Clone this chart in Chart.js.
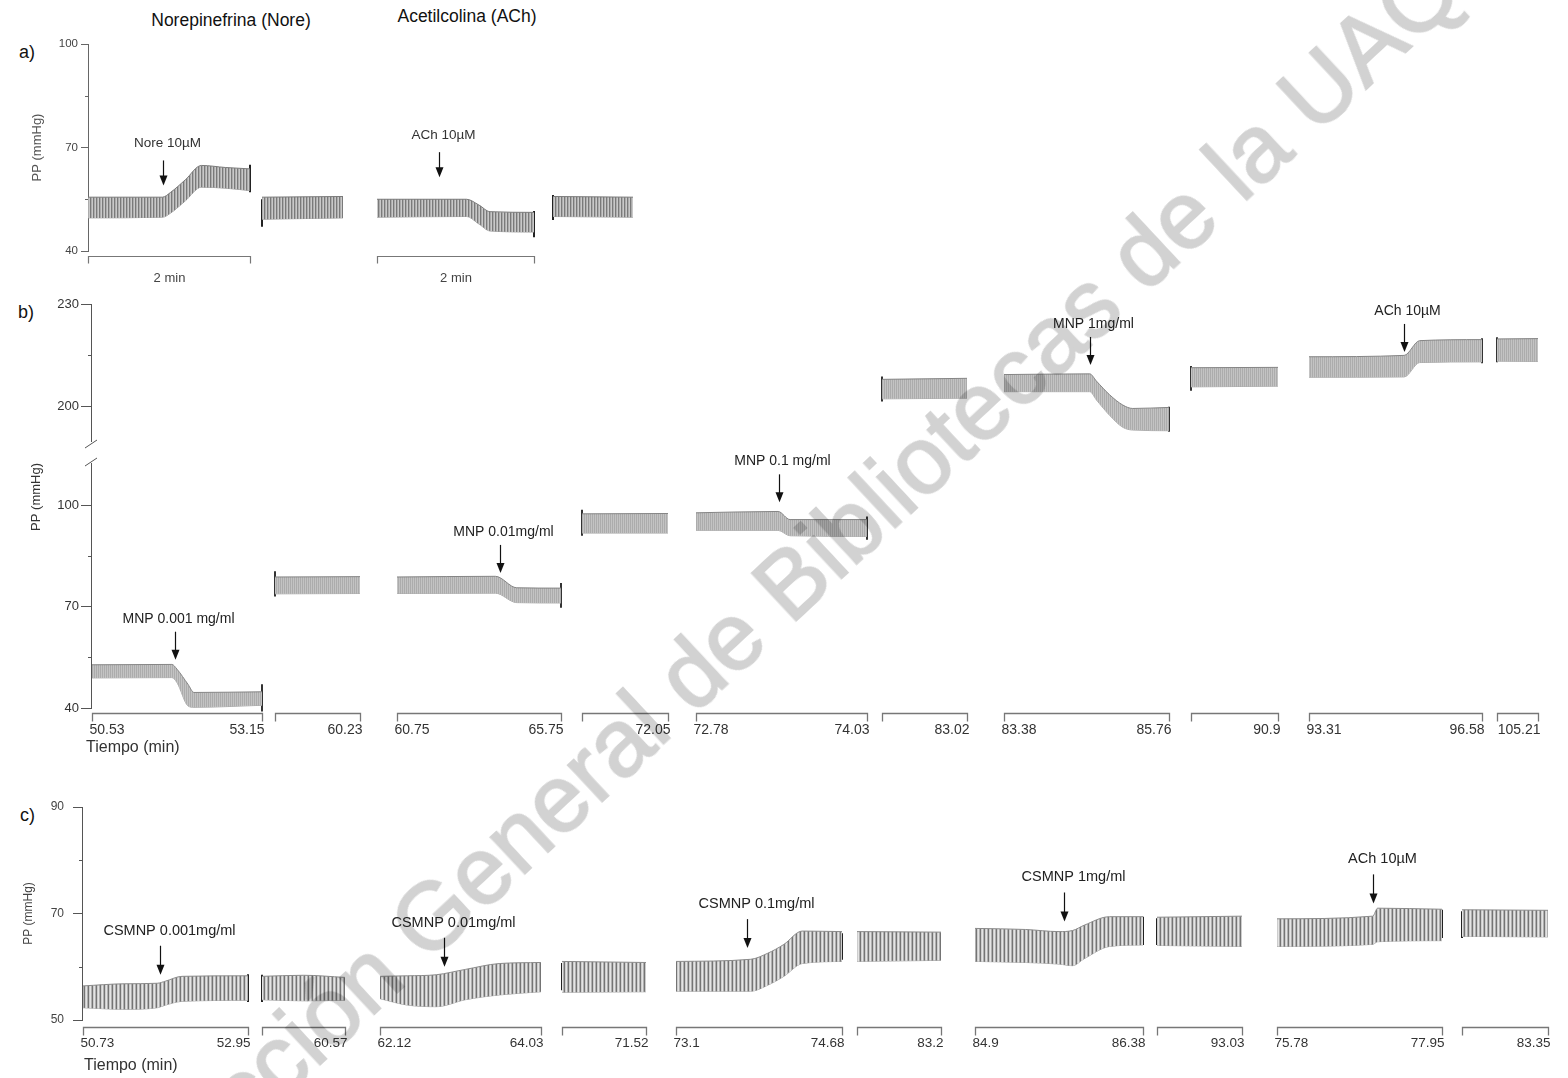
<!DOCTYPE html>
<html lang="es">
<head>
<meta charset="utf-8">
<title>Presión de perfusión</title>
<script src="https://cdn.jsdelivr.net/npm/chart.js@4.4.1/dist/chart.umd.min.js"></script>
<style>
  html, body { margin: 0; padding: 0; background: #fff; }
  body { width: 1568px; height: 1078px; position: relative; overflow: hidden;
         font-family: "Liberation Sans", Arial, sans-serif; }
  canvas { position: absolute; left: 0; }
  .tag { position: absolute; font-size: 18px; line-height: 1; color: #111; }
  .head { position: absolute; font-size: 17.5px; line-height: 1; color: #111;
          transform: translateX(-50%); white-space: nowrap; }
  #marca { position: absolute; left: 64px; top: 1194px; transform-origin: 0 0;
           transform: rotate(-43deg); font-size: 95px; line-height: 1; white-space: nowrap;
           color: #d2d2d2; -webkit-text-stroke: 2px #d2d2d2; mix-blend-mode: multiply;
           pointer-events: none; z-index: 5; }
</style>
</head>
<body>

<div class="head" style="left:231px; top:12px">Norepinefrina (Nore)</div>
<div class="head" style="left:467px; top:8px">Acetilcolina (ACh)</div>
<div class="tag" style="left:19px; top:43px">a)</div>
<div class="tag" style="left:18px; top:303px">b)</div>
<div class="tag" style="left:20px; top:806px">c)</div>

<canvas id="panelA" width="1568" height="300" style="top:0"></canvas>
<canvas id="panelB" width="1568" height="480" style="top:290px"></canvas>
<canvas id="panelC" width="1568" height="288" style="top:790px"></canvas>

<div id="marca">Dirección General de Bibliotecas de la UAQ</div>

<script>
// ---------------------------------------------------------------
// Datos: cada tramo del registro es una lista de [fracción del tramo,
// PP máxima, PP mínima] en mmHg. Las marcas negras son
// [tramo, lado (0 izq / 1 der), mín, máx].
// ---------------------------------------------------------------

// a) Norepinefrina y acetilcolina (controles)
const aTicks = [40, 70, 100];
const aMinor = [55, 85];
const aTraces = [
  [[0, 55.6, 49.6], [0.46, 55.6, 49.8], [0.51, 57, 51], [0.6, 60.6, 54.5], [0.7, 64.8, 58.5], [0.85, 64.2, 58.2], [1, 63.8, 57.5]],
  [[0, 55.6, 49.2], [1, 55.8, 49.6]],
  [[0, 55, 49.8], [0.57, 55, 50], [0.65, 53.3, 47.8], [0.72, 51.4, 45.8], [1, 51.2, 45.5]],
  [[0, 55.8, 50], [1, 55.6, 49.8]]
];
const aMarks = [[0, 1, 57, 65], [1, 0, 47, 55], [2, 1, 44, 51.6], [3, 0, 49, 56.2]];
const aDoses = [
  { text: 'Nore 10µM', seg: 0, f: 0.46, tip: 59 },
  { text: 'ACh 10µM', seg: 2, f: 0.395, tip: 61.4 }
];
const aBars = ['2 min', '', '2 min', ''];

// b) MNP
const bTicksTop = [200, 230];
const bTicksBot = [40, 70, 100];
const bMinorTop = [215];
const bMinorBot = [55, 85];
const bTraces = [
  [[0, 52.8, 48.9], [0.47, 52.9, 49], [0.5, 51.5, 47.5], [0.565, 47, 40.6], [0.6, 44.6, 40.2], [1, 44.8, 40.8]],
  [[0, 78.8, 73.8], [1, 78.9, 73.9]],
  [[0, 78.8, 73.9], [0.6, 79, 74], [0.73, 75.6, 71.2], [1, 75.5, 71.1]],
  [[0, 97.5, 91.8], [1, 97.6, 91.8]],
  [[0, 97.8, 92.6], [0.48, 98.2, 92.6], [0.55, 95.8, 91], [1, 95.8, 90.8]],
  [[0, 208, 202.3], [1, 208.3, 202.5]],
  [[0, 209.4, 204.4], [0.52, 209.6, 204.4], [0.56, 207.5, 202], [0.64, 203.5, 197.5], [0.72, 200.5, 194], [0.78, 199.5, 193.2], [1, 199.8, 193]],
  [[0, 211.4, 205.8], [1, 211.5, 206]],
  [[0, 214.6, 208.6], [0.55, 215, 208.7], [0.64, 219.3, 212.9], [1, 219.6, 213.1]],
  [[0, 219.8, 213.3], [1, 219.9, 213.2]]
];
const bMarks = [[0, 1, 39, 47], [1, 0, 73, 80.5], [2, 1, 69.7, 77], [3, 0, 91, 98.7], [4, 1, 89.8, 96.7],
                [5, 0, 201.5, 208.8], [6, 1, 192.7, 200], [7, 0, 204.7, 211.9], [8, 1, 212.7, 220], [9, 0, 213, 220.3]];
const bDoses = [
  { text: 'MNP 0.001 mg/ml', seg: 0, f: 0.49, tip: 54.3 },
  { text: 'MNP 0.01mg/ml', seg: 2, f: 0.628, tip: 80 },
  { text: 'MNP 0.1 mg/ml', seg: 4, f: 0.485, tip: 100.9 },
  { text: 'MNP 1mg/ml', seg: 6, f: 0.52, tip: 212.2 },
  { text: 'ACh 10µM', seg: 8, f: 0.55, tip: 216 }
];
const bStart = ['50.53', '', '60.75', '', '72.78', '', '83.38', '', '93.31', ''];
const bEnd = ['53.15', '60.23', '65.75', '72.05', '74.03', '83.02', '85.76', '90.9', '96.58', '105.21'];

// c) CSMNP
const cTicks = [50, 70, 90];
const cMinor = [60, 80];
const cTraces = [
  [[0, 56.4, 52.3], [0.25, 56.8, 52], [0.45, 56.9, 52.3], [0.5, 57.3, 52.8], [0.6, 58.2, 53.5], [1, 58.3, 53.7]],
  [[0, 58.2, 53.8], [0.5, 58.4, 53.6], [1, 58, 53.7]],
  [[0, 58.2, 54], [0.17, 58.3, 52.8], [0.35, 58.5, 52.5], [0.53, 59.5, 53.8], [0.74, 60.6, 54.7], [1, 60.8, 55.3]],
  [[0, 61, 55.2], [1, 60.8, 55.3]],
  [[0, 61, 55.4], [0.45, 61.4, 55.4], [0.55, 62.5, 56.5], [0.65, 64.2, 58.2], [0.76, 66.7, 60.6], [1, 66.6, 61]],
  [[0, 66.6, 61], [1, 66.5, 61.2]],
  [[0, 67.2, 61], [0.3, 67, 60.8], [0.5, 66.6, 60.5], [0.58, 66.8, 60.2], [0.65, 67.8, 61.5], [0.8, 69.4, 63.8], [1, 69.4, 64.1]],
  [[0, 69.3, 64], [1, 69.5, 63.8]],
  [[0, 69, 63.8], [0.58, 69.5, 64.2], [0.61, 71, 64.7], [1, 70.8, 64.9]],
  [[0, 70.7, 65.7], [1, 70.6, 65.6]]
];
const cMarks = [[0, 1, 53.4, 58.6], [1, 0, 53.4, 58.5], [3, 0, 55.6, 60.7], [4, 1, 61.3, 66.3],
                [6, 1, 64.1, 69.4], [7, 0, 64.1, 69.1], [8, 1, 65.4, 70.7], [9, 0, 65.4, 70.4]];
const cDoses = [
  { text: 'CSMNP 0.001mg/ml', seg: 0, f: 0.467, tip: 58.5 },
  { text: 'CSMNP 0.01mg/ml', seg: 2, f: 0.40, tip: 60 },
  { text: 'CSMNP 0.1mg/ml', seg: 4, f: 0.43, tip: 63.5 },
  { text: 'CSMNP 1mg/ml', seg: 6, f: 0.53, tip: 68.5 },
  { text: 'ACh 10µM', seg: 8, f: 0.584, tip: 71.9 }
];
const cStart = ['50.73', '', '62.12', '', '73.1', '', '84.9', '', '75.78', ''];
const cEnd = ['52.95', '60.57', '64.03', '71.52', '74.68', '83.2', '86.38', '93.03', '77.95', '83.35'];

// ---------------------------------------------------------------
// Disposición: posición de cada tramo sobre la pista horizontal
// (unidades de pista, el registro no es continuo en el tiempo)
// ---------------------------------------------------------------
const aSlots = [[0, 162], [174, 255], [289, 446], [465, 545]];
const bSlots = [[1, 171], [184, 269], [306, 470], [491, 577], [605, 776],
                [791, 876], [913, 1078], [1100, 1187], [1218, 1391], [1406, 1447]];
const cSlots = [[1, 166], [180, 263], [298, 459], [480, 564], [594, 760],
                [775, 859], [893, 1061], [1075, 1160], [1195, 1360], [1380, 1466]];
const bAxes = ['yBot', 'yBot', 'yBot', 'yBot', 'yBot', 'yTop', 'yTop', 'yTop', 'yTop', 'yTop'];

const FONT = '"Liberation Sans", Arial, sans-serif';

// Textura de latidos: franjas verticales finas
function stripes(cols) {
  const c = document.createElement('canvas');
  c.width = cols.length; c.height = 4;
  const g = c.getContext('2d');
  cols.forEach((col, i) => { g.fillStyle = col; g.fillRect(i, 0, 1, 4); });
  return g.createPattern(c, 'repeat');
}

function slotX(slots, seg, f) {
  const [x0, x1] = slots[seg];
  return x0 + f * (x1 - x0);
}

// Dos líneas por tramo (máx y mín) con relleno entre ambas
function traceSets(slots, traces, axes, look) {
  const sets = [];
  traces.forEach((pts, i) => {
    const yAxisID = axes ? axes[i] : 'y';
    const common = { yAxisID, pointRadius: 0, borderWidth: 1, cubicInterpolationMode: 'monotone' };
    sets.push(Object.assign({
      data: pts.map(p => ({ x: slotX(slots, i, p[0]), y: p[1] })),
      fill: '+1', backgroundColor: look.fill, borderColor: look.top
    }, common));
    sets.push(Object.assign({
      data: pts.map(p => ({ x: slotX(slots, i, p[0]), y: p[2] })),
      fill: false, borderColor: look.bottom
    }, common));
  });
  return sets;
}

// Marcas negras de inicio / fin de tramo
function markSets(slots, marks, axes, color) {
  return marks.map(([seg, side, lo, hi]) => ({
    data: [{ x: slots[seg][side], y: lo }, { x: slots[seg][side], y: hi }],
    yAxisID: axes ? axes[seg] : 'y',
    borderColor: color, borderWidth: 2, pointRadius: 0, fill: false, clip: false
  }));
}

function doseItems(slots, doses, axes) {
  return doses.map(d => ({ text: d.text, x: slotX(slots, d.seg, d.f), tip: d.tip, axis: axes ? axes[d.seg] : 'y' }));
}

function bracketItems(slots, starts, ends, mids) {
  return slots.map((span, i) => ({
    span, start: starts ? starts[i] : '', end: ends ? ends[i] : '', mid: mids ? mids[i] : ''
  })).filter(it => it.start || it.end || it.mid);
}

function yAxis(o) {
  return {
    type: 'linear', position: 'left', min: o.min, max: o.max,
    display: true, weight: o.weight || 0,
    stack: o.stack, stackWeight: o.stackWeight,
    afterBuildTicks: s => { s.ticks = (o.ticks || []).map(v => ({ value: v })); },
    afterFit: s => { s.width = o.width; },
    border: { display: o.border !== false, color: o.line, width: 1 },
    grid: { display: o.border !== false, drawOnChartArea: false, drawTicks: true,
            tickLength: o.tickLen, tickColor: o.line, tickWidth: 1 },
    ticks: { display: !!o.ticks, padding: o.pad, color: o.color, font: { family: FONT, size: o.size } },
    title: o.title ? {
      display: true, text: 'PP (mmHg)', color: o.titleColor, align: o.titleAlign || 'center',
      font: { family: FONT, size: o.titleSize }, padding: { top: o.titlePad, bottom: 0 }
    } : { display: false }
  };
}

// Flechas, corchetes de tiempo, marcas menores y corte del eje
const registro = {
  id: 'registro',
  afterDraw(chart, args, o) {
    const ctx = chart.ctx;
    const xs = chart.scales.x;
    const area = chart.chartArea;
    ctx.save();

    ctx.strokeStyle = o.axisColor; ctx.lineWidth = 1;
    (o.minor || []).forEach(m => {
      const s = chart.scales[m.axis];
      m.values.forEach(v => {
        const y = Math.round(s.getPixelForValue(v)) + 0.5;
        ctx.beginPath(); ctx.moveTo(s.right - m.len, y); ctx.lineTo(s.right, y); ctx.stroke();
      });
    });

    if (o.cut) {
      const top = chart.scales[o.cut[0]], bot = chart.scales[o.cut[1]];
      const x = top.right;
      [top.bottom + 3, bot.top - 1].forEach(y => {
        ctx.beginPath(); ctx.moveTo(x - 6, y + 4); ctx.lineTo(x + 6, y - 4); ctx.stroke();
      });
    }

    const b = o.brackets;
    const y = Math.round(area.bottom + b.gap) + 0.5;
    b.items.forEach(it => {
      const x0 = Math.round(xs.getPixelForValue(it.span[0])) + 0.5;
      const x1 = Math.round(xs.getPixelForValue(it.span[1])) + 0.5;
      ctx.strokeStyle = b.color; ctx.lineWidth = b.width;
      ctx.beginPath();
      ctx.moveTo(x0, y + b.tick); ctx.lineTo(x0, y); ctx.lineTo(x1, y); ctx.lineTo(x1, y + b.tick);
      ctx.stroke();
      ctx.fillStyle = b.textColor; ctx.font = b.font; ctx.textBaseline = 'middle';
      const ty = area.bottom + b.textGap;
      if (it.start) { ctx.textAlign = 'left'; ctx.fillText(it.start, x0 - 3, ty); }
      if (it.end) { ctx.textAlign = 'right'; ctx.fillText(it.end, x1 + 2, ty); }
      if (it.mid) { ctx.textAlign = 'center'; ctx.fillText(it.mid, (x0 + x1) / 2, ty); }
    });
    if (b.axisTitle) {
      ctx.textAlign = 'left'; ctx.font = b.titleFont; ctx.fillStyle = b.textColor;
      ctx.fillText(b.axisTitle, area.left + b.titleDx, area.bottom + b.titleGap);
    }

    const d = o.doses;
    d.items.forEach(it => {
      const ys = chart.scales[it.axis];
      const x = Math.round(xs.getPixelForValue(it.x)) + 0.5;
      const tip = ys.getPixelForValue(it.tip);
      ctx.strokeStyle = '#111'; ctx.fillStyle = '#111'; ctx.lineWidth = 1.2;
      ctx.beginPath(); ctx.moveTo(x, tip - d.len); ctx.lineTo(x, tip - 8); ctx.stroke();
      ctx.beginPath(); ctx.moveTo(x - 4, tip - 10); ctx.lineTo(x + 4, tip - 10); ctx.lineTo(x, tip);
      ctx.closePath(); ctx.fill();
      ctx.font = d.font; ctx.textAlign = 'center'; ctx.textBaseline = 'middle'; ctx.fillStyle = d.color;
      ctx.fillText(it.text, x + d.shift, tip - d.labelGap);
    });
    ctx.restore();
  }
};

function baseOptions(padding, trackLen, scales, reg) {
  return {
    responsive: false, animation: false, events: [],
    layout: { padding },
    scales: Object.assign({ x: { type: 'linear', min: 0, max: trackLen, display: false } }, scales),
    plugins: { legend: { display: false }, tooltip: { enabled: false }, registro: reg }
  };
}

// ---------- a) ----------
const lookA = { fill: stripes(['#7a7a7a', '#acacac', '#c9c9c9']), top: '#7a7a7a', bottom: '#9c9c9c' };
new Chart(document.getElementById('panelA'), {
  type: 'line',
  data: { datasets: traceSets(aSlots, aTraces, null, lookA).concat(markSets(aSlots, aMarks, null, '#222')) },
  options: baseOptions({ top: 44, bottom: 49, left: 0, right: 8 }, 1472, {
    y: yAxis({ min: 40, max: 100, ticks: aTicks, width: 88, line: '#666', tickLen: 7, pad: 3,
               color: '#444', size: 11.5, title: true, titleColor: '#555', titleSize: 13, titlePad: 30 })
  }, {
    axisColor: '#666',
    minor: [{ axis: 'y', values: aMinor, len: 3 }],
    brackets: { items: bracketItems(aSlots, null, null, aBars), gap: 5, tick: 7, width: 1.2,
                color: '#777', textColor: '#444', font: '13px ' + FONT, textGap: 27 },
    doses: { items: doseItems(aSlots, aDoses, null), len: 25, labelGap: 42, shift: 4,
             font: '13.5px ' + FONT, color: '#333' }
  }),
  plugins: [registro]
});

// ---------- b) ----------
const lookB = { fill: stripes(['#acacac', '#c3c3c3']), top: '#858585', bottom: '#ababab' };
new Chart(document.getElementById('panelB'), {
  type: 'line',
  data: { datasets: traceSets(bSlots, bTraces, bAxes, lookB).concat(markSets(bSlots, bMarks, bAxes, '#333')) },
  options: baseOptions({ top: 14, bottom: 62, left: 0, right: 8 }, 1469, {
    yTop: yAxis({ min: 190, max: 230, ticks: bTicksTop, width: 91, line: '#555', tickLen: 10, pad: 2,
                  color: '#333', size: 13, stack: 'pp', stackWeight: 137, weight: 2 }),
    yGap: yAxis({ min: 0, max: 1, width: 91, border: false, stack: 'pp', stackWeight: 22, weight: 1 }),
    yBot: yAxis({ min: 40, max: 112.55, ticks: bTicksBot, width: 91, line: '#555', tickLen: 10, pad: 2,
                  color: '#333', size: 13, stack: 'pp', stackWeight: 245, weight: 0,
                  title: true, titleColor: '#333', titleSize: 13, titlePad: 28.5, titleAlign: 'end' })
  }, {
    axisColor: '#555',
    minor: [{ axis: 'yTop', values: bMinorTop, len: 3 }, { axis: 'yBot', values: bMinorBot, len: 3 }],
    cut: ['yTop', 'yBot'],
    brackets: { items: bracketItems(bSlots, bStart, bEnd, null), gap: 5, tick: 8, width: 1.3,
                color: '#777', textColor: '#333', font: '14px ' + FONT, textGap: 22,
                axisTitle: 'Tiempo (min)', titleFont: '16px ' + FONT, titleDx: -5, titleGap: 40 },
    doses: { items: doseItems(bSlots, bDoses, bAxes), len: 28, labelGap: 41, shift: 3,
             font: '14px ' + FONT, color: '#222' }
  }),
  plugins: [registro]
});

// ---------- c) ----------
const lookC = { fill: stripes(['#747474', '#cdcdcd', '#e4e4e4', '#b0b0b0']), top: '#8a8a8a', bottom: '#a6a6a6' };
new Chart(document.getElementById('panelC'), {
  type: 'line',
  data: { datasets: traceSets(cSlots, cTraces, null, lookC).concat(markSets(cSlots, cMarks, null, '#222')) },
  options: baseOptions({ top: 17, bottom: 58, left: 0, right: 8 }, 1478, {
    y: yAxis({ min: 50, max: 90, ticks: cTicks, width: 82, line: '#555', tickLen: 9, pad: 9,
               color: '#444', size: 12, title: true, titleColor: '#444', titleSize: 12, titlePad: 21 })
  }, {
    axisColor: '#555',
    minor: [{ axis: 'y', values: cMinor, len: 3 }],
    brackets: { items: bracketItems(cSlots, cStart, cEnd, null), gap: 7, tick: 8, width: 1.3,
                color: '#777', textColor: '#333', font: '13.5px ' + FONT, textGap: 23,
                axisTitle: 'Tiempo (min)', titleFont: '16px ' + FONT, titleDx: 2, titleGap: 46 },
    doses: { items: doseItems(cSlots, cDoses, null), len: 29, labelGap: 44, shift: 9,
             font: '14.5px ' + FONT, color: '#222' }
  }),
  plugins: [registro]
});
</script>
</body>
</html>
